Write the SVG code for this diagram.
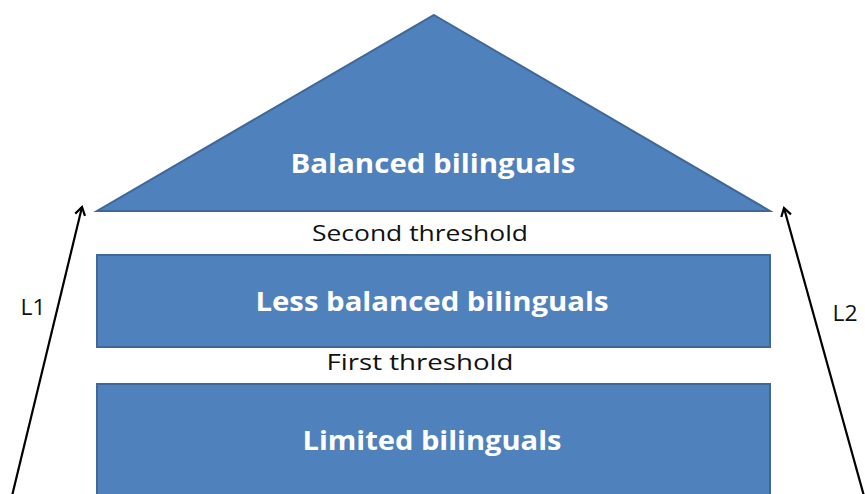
<svg xmlns="http://www.w3.org/2000/svg" width="865" height="494" viewBox="0 0 865 494">
  <style>
    .shape { fill: #4f81bd; stroke: #3f6899; stroke-width: 2; }
    .label { font-family: "Open Sans", "Liberation Sans", sans-serif; font-weight: bold; fill: #ffffff; text-anchor: middle; }
    .note { font-family: "Open Sans", "Liberation Sans", sans-serif; fill: #111111; text-anchor: middle; }
    .arrow { stroke: #000000; stroke-width: 2.2; fill: none; }
  </style>
  <defs>
    <marker id="chevron" viewBox="0 0 12 12" refX="10" refY="6" markerWidth="12" markerHeight="12" markerUnits="userSpaceOnUse" orient="auto">
      <path d="M2,1 L10,6 L2,11" fill="none" stroke="#000000" stroke-width="2.2"/>
    </marker>
  </defs>
  <rect width="865" height="494" fill="#ffffff"/>

  <g id="balanced">
    <polygon class="shape" points="434,15 770,211 97,211"/>
    <text class="label" x="433" y="173" font-size="27" textLength="285" lengthAdjust="spacingAndGlyphs">Balanced bilinguals</text>
  </g>

  <g id="second-threshold">
    <text class="note" x="420" y="241" font-size="21" textLength="216" lengthAdjust="spacingAndGlyphs">Second threshold</text>
  </g>

  <g id="less-balanced">
    <rect class="shape" x="97" y="255" width="673" height="92"/>
    <text class="label" x="432" y="311" font-size="27" textLength="353" lengthAdjust="spacingAndGlyphs">Less balanced bilinguals</text>
  </g>

  <g id="first-threshold">
    <text class="note" x="420" y="370" font-size="21" textLength="187" lengthAdjust="spacingAndGlyphs">First threshold</text>
  </g>

  <g id="limited">
    <rect class="shape" x="97" y="384" width="673" height="120"/>
    <text class="label" x="432" y="450" font-size="27" textLength="259" lengthAdjust="spacingAndGlyphs">Limited bilinguals</text>
  </g>

  <g id="l1-label">
    <text class="note" x="33" y="315" font-size="21" textLength="25" lengthAdjust="spacingAndGlyphs">L1</text>
  </g>
  <g id="l2-label">
    <text class="note" x="845" y="321" font-size="21" textLength="25" lengthAdjust="spacingAndGlyphs">L2</text>
  </g>

  <g id="connectors">
    <line class="arrow" x1="12" y1="496" x2="82" y2="207" marker-end="url(#chevron)"/>
    <line class="arrow" x1="864" y1="496" x2="784" y2="208" marker-end="url(#chevron)"/>
  </g>
</svg>
